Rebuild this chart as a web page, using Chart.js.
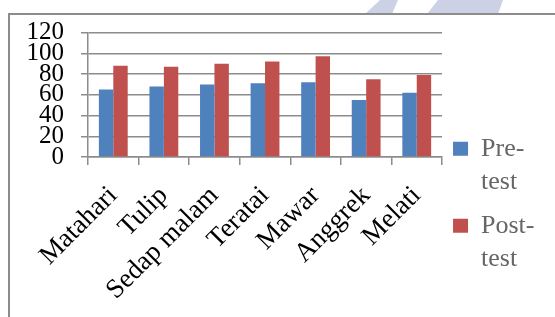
<!DOCTYPE html>
<html>
<head>
<meta charset="utf-8">
<script src="https://cdn.jsdelivr.net/npm/chart.js@4"></script>
<style>
  html, body { margin: 0; padding: 0; background: #fff; }
  #wrap { width: 555px; height: 317px; position: relative; }
</style>
</head>
<body>
<div id="wrap"><canvas id="chart"></canvas></div>
<script>
// values
const categories = ['Matahari', 'Tulip', 'Sedap malam', 'Teratai', 'Mawar', 'Anggrek', 'Melati'];
const seriesNames = ['Pre-test', 'Post-test'];
const preTest = [65, 68, 70, 71, 72, 55, 62];
const postTest = [88, 87, 90, 92, 97, 75, 79];
const yTicks = [0, 20, 40, 60, 80, 100, 120];

const GRID = '#8c8c8c';
const serif = 'Liberation Serif';

// outer frame of the chart object and the faint watermark strokes above it
const framePlugin = {
    id: 'frame',
    beforeDraw(chart) {
        const ctx = chart.ctx;
        ctx.save();
        ctx.fillStyle = '#cdd1e6';
        ctx.beginPath();
        ctx.moveTo(380, 0); ctx.lineTo(398, 0); ctx.lineTo(392, 14); ctx.lineTo(365, 14);
        ctx.closePath(); ctx.fill();
        ctx.beginPath();
        ctx.moveTo(438, 0); ctx.lineTo(503, 0); ctx.lineTo(498, 14); ctx.lineTo(427, 14);
        ctx.closePath(); ctx.fill();
        ctx.strokeStyle = GRID;
        ctx.lineWidth = 2;
        ctx.beginPath();
        ctx.moveTo(9, 317); ctx.lineTo(9, 14); ctx.lineTo(555, 14);
        ctx.stroke();
        ctx.restore();
    }
};

new Chart(document.getElementById('chart'), {
    type: 'bar',
    data: {
        labels: categories,
        datasets: [
            { label: seriesNames[0], data: preTest, backgroundColor: '#4f81bd' },
            { label: seriesNames[1], data: postTest, backgroundColor: '#c0504d' }
        ]
    },
    options: {
        responsive: true,
        maintainAspectRatio: false,
        animation: false,
        layout: { padding: { left: 0, top: 32.5, right: 10.5, bottom: 0 } },
        datasets: { bar: { categoryPercentage: 0.57, barPercentage: 1.0 } },
        scales: {
            x: {
                grid: { drawOnChartArea: false, drawTicks: true, tickLength: 8, color: GRID, lineWidth: 1.5 },
                border: { color: GRID, width: 1.5 },
                ticks: {
                    color: '#000', minRotation: 45, maxRotation: 45, padding: 15, autoSkip: false,
                    font: { family: serif, size: 27 }
                },
                afterFit: (scale) => { scale.height = 160; }
            },
            y: {
                min: 0, max: 120,
                afterBuildTicks: (scale) => { scale.ticks = yTicks.map(v => ({ value: v })); },
                grid: { color: GRID, lineWidth: 1.5, tickLength: 7 },
                border: { color: GRID, width: 1.5 },
                ticks: {
                    color: '#000', autoSkip: false, padding: 17,
                    font: { family: serif, size: 25, lineHeight: 1 }
                },
                afterFit: (scale) => { scale.width = 88; }
            }
        },
        plugins: {
            tooltip: { enabled: false },
            legend: {
                position: 'right',
                // blank title only pushes the two entries down to where they sit in the original
                title: { display: true, text: ' ', font: { size: 10, lineHeight: 1.2 }, padding: { top: 27, bottom: 26 } },
                labels: {
                    color: '#000', boxWidth: 15, boxHeight: 14, padding: 11,
                    font: { family: serif, size: 26, lineHeight: 1.27 },
                    generateLabels: (chart) => chart.data.datasets.map((ds, i) => ({
                        text: ds.label.replace('-', '-\n').split('\n'),
                        fillStyle: ds.backgroundColor,
                        strokeStyle: ds.backgroundColor,
                        lineWidth: 0,
                        hidden: false,
                        datasetIndex: i
                    }))
                }
            }
        }
    },
    plugins: [framePlugin]
});
</script>
</body>
</html>
